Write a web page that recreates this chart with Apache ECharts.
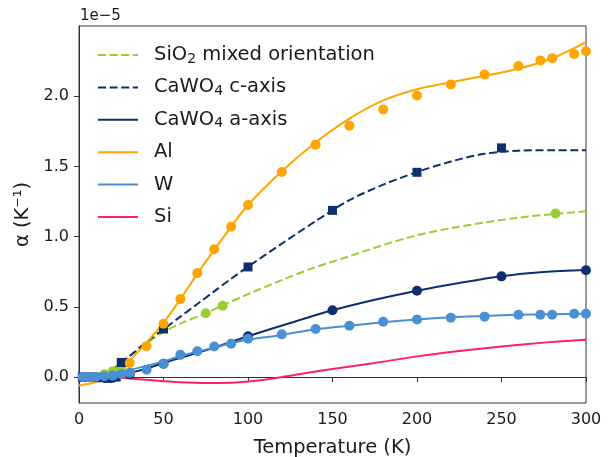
<!DOCTYPE html>
<html>
<head>
<meta charset="utf-8">
<script src="https://cdn.jsdelivr.net/npm/echarts@6/dist/echarts.min.js"></script>
<style>
  html, body { margin: 0; padding: 0; background: #fff; }
  #chart { width: 610px; height: 457px; }
</style>
</head>
<body>
<div id="chart"></div>
<script>
// values in units of 1e-5 K^-1
// --- measured points ---
const alT = [30, 40, 50, 60, 70, 80, 90, 100, 120, 140, 160, 180, 200, 220, 240, 260, 273, 280, 293, 300];
const alV = [0.10, 0.22, 0.38, 0.555, 0.74, 0.91, 1.07, 1.225, 1.46, 1.655, 1.79, 1.905, 2.005, 2.083, 2.155, 2.215, 2.255, 2.27, 2.30, 2.32];

const wT = [2, 6, 10, 15, 20, 25, 30, 40, 50, 60, 70, 80, 90, 100, 120, 140, 160, 180, 200, 220, 240, 260, 273, 280, 293, 300];
const wV = [0.0, 0.0, 0.0, 0.005, 0.01, 0.02, 0.03, 0.052, 0.095, 0.158, 0.183, 0.218, 0.237, 0.273, 0.304, 0.342, 0.366, 0.394, 0.41, 0.423, 0.43, 0.444, 0.444, 0.444, 0.451, 0.451];

const cwcT = [2, 7, 12, 17, 22, 25, 50, 100, 150, 200, 250];
const cwcV = [0.0, 0.0, -0.005, -0.01, 0.0, 0.104, 0.342, 0.784, 1.187, 1.458, 1.632];

const cwaT = [10, 20, 30, 50, 100, 150, 200, 250, 300];
const cwaV = [0.0, -0.005, 0.02, 0.095, 0.29, 0.475, 0.615, 0.717, 0.76];

const sioT = [15, 20, 25, 75, 85, 282];
const sioV = [0.02, 0.04, 0.07, 0.454, 0.508, 1.164];

// --- fitted curves ---
const alFitT = [0, 10, 20, 30, 40, 50, 60, 70, 80, 90, 100, 120, 140, 160, 180, 200, 220, 240, 260, 280, 300];
const alFitV = [-0.06, -0.035, 0.02, 0.12, 0.245, 0.385, 0.555, 0.735, 0.905, 1.07, 1.225, 1.465, 1.67, 1.84, 1.97, 2.05, 2.10, 2.145, 2.195, 2.27, 2.385];

const cwcFitT = [0, 10, 20, 30, 40, 50, 60, 70, 80, 90, 100, 120, 140, 160, 180, 200, 220, 240, 260, 280, 300];
const cwcFitV = [-0.03, -0.01, 0.05, 0.15, 0.25, 0.34, 0.43, 0.52, 0.61, 0.70, 0.785, 0.95, 1.11, 1.26, 1.37, 1.46, 1.535, 1.59, 1.612, 1.615, 1.615];

const cwaFitT = [0, 10, 20, 30, 40, 50, 75, 100, 125, 150, 175, 200, 225, 250, 275, 300];
const cwaFitV = [0.0, 0.0, 0.005, 0.03, 0.06, 0.10, 0.19, 0.29, 0.385, 0.475, 0.55, 0.615, 0.67, 0.718, 0.748, 0.762];

const sioFitT = [0, 10, 20, 30, 40, 50, 60, 75, 85, 100, 120, 137, 160, 180, 200, 220, 240, 260, 280, 300];
const sioFitV = [0.0, 0.0, 0.06, 0.15, 0.24, 0.32, 0.38, 0.455, 0.51, 0.59, 0.69, 0.77, 0.86, 0.94, 1.01, 1.06, 1.10, 1.135, 1.16, 1.18];

const wFitT = [0, 10, 20, 30, 40, 50, 60, 70, 80, 90, 100, 120, 140, 160, 180, 200, 220, 240, 260, 280, 300];
const wFitV = [0.0, 0.01, 0.03, 0.05, 0.08, 0.11, 0.15, 0.18, 0.21, 0.24, 0.265, 0.30, 0.34, 0.365, 0.39, 0.41, 0.425, 0.435, 0.443, 0.447, 0.45];

const siFitT = [0, 10, 20, 30, 40, 50, 60, 75, 90, 100, 115, 130, 150, 175, 200, 225, 250, 275, 300];
const siFitV = [0.01, 0.01, 0.0, -0.01, -0.02, -0.03, -0.038, -0.043, -0.04, -0.032, -0.01, 0.02, 0.057, 0.10, 0.147, 0.185, 0.218, 0.245, 0.266];

const yTicks = [0, 0.5, 1.0, 1.5, 2.0];

const names = ['SiO\u2082 mixed orientation', 'CaWO\u2084 c-axis', 'CaWO\u2084 a-axis', 'Al', 'W', 'Si'];
const cGreen = '#9acd32', cNavy = '#0d2f6b', cOrange = '#ffa500', cBlue = '#4a8fd3', cPink = '#ff1f68';

const pairs = (xs, ys) => xs.map((x, i) => [x, ys[i]]);

function fitLine(name, xs, ys, color, dashed) {
  return {
    name: name, type: 'line', smooth: 0.3, symbol: 'none',
    data: pairs(xs, ys),
    lineStyle: { color: color, width: 2, type: dashed ? [8, 3.6] : 'solid' },
    itemStyle: { color: color },
    z: 2
  };
}
function dots(xs, ys, color, shape, size) {
  return {
    type: 'scatter', symbol: shape, symbolSize: size,
    data: pairs(xs, ys),
    itemStyle: { color: color, opacity: 1 },
    z: 3
  };
}

const chart = echarts.init(document.getElementById('chart'));
const option = {
  animation: false,
  grid: { left: 79, right: 24, top: 26, bottom: 54, show: true, borderColor: '#333', borderWidth: 1,
    outerBoundsMode: 'none', containLabel: false },
  legend: {
    data: names,
    orient: 'vertical',
    left: 92, top: 39,
    itemWidth: 40, itemHeight: 14, itemGap: 10.4,
    itemStyle: { opacity: 0 },
    formatter: n => n.replace('\u2082', '{s|2}').replace('\u2084', '{s|4}'),
    textStyle: {
      fontSize: 19.5, lineHeight: 22, color: '#1a1a1a', fontFamily: 'DejaVu Sans', padding: [0, 0, 0, 11],
      rich: { s: { fontSize: 14, lineHeight: 22, verticalAlign: 'bottom', color: '#1a1a1a', fontFamily: 'DejaVu Sans' } }
    }
  },
  xAxis: {
    type: 'value', min: 0, max: 300, interval: 50,
    name: 'Temperature (K)', nameLocation: 'middle', nameGap: 35,
    nameTextStyle: { fontSize: 19.5, color: '#1a1a1a', fontFamily: 'DejaVu Sans' },
    axisLine: { show: true, lineStyle: { color: '#333' } },
    axisTick: { show: true, length: 5, lineStyle: { color: '#333' } },
    axisLabel: { fontSize: 16, color: '#1a1a1a', fontFamily: 'DejaVu Sans', margin: 9 },
    splitLine: { show: false }
  },
  yAxis: {
    type: 'value', min: -0.185, max: 2.5,
    name: '\u03b1 (K\u207b\u00b9)', nameLocation: 'middle', nameGap: 39, nameRotate: 90,
    nameTextStyle: { fontSize: 19.5, color: '#1a1a1a', fontFamily: 'DejaVu Sans' },
    axisLine: { show: true, lineStyle: { color: '#333' } },
    axisTick: { show: true, length: 5, customValues: yTicks, lineStyle: { color: '#333' } },
    axisLabel: { fontSize: 16, color: '#1a1a1a', fontFamily: 'DejaVu Sans', margin: 10,
      customValues: yTicks, formatter: v => v.toFixed(1) },
    splitLine: { show: false }
  },
  graphic: [{
    type: 'text', left: 80, top: 9,
    style: { text: '1e\u22125', fontSize: 15, fill: '#1a1a1a', fontFamily: 'DejaVu Sans' }
  }],
  series: [
    fitLine(names[0], sioFitT, sioFitV, cGreen, true),
    fitLine(names[1], cwcFitT, cwcFitV, cNavy, true),
    fitLine(names[2], cwaFitT, cwaFitV, cNavy, false),
    fitLine(names[3], alFitT, alFitV, cOrange, false),
    fitLine(names[4], wFitT, wFitV, cBlue, false),
    fitLine(names[5], siFitT, siFitV, cPink, false),
    dots(sioT, sioV, cGreen, 'circle', 10),
    dots(cwcT, cwcV, cNavy, 'rect', 9),
    dots(cwaT, cwaV, cNavy, 'circle', 10),
    dots(wT, wV, cBlue, 'circle', 10),
    dots(alT, alV, cOrange, 'circle', 10)
  ]
};
chart.setOption(option);
</script>
</body>
</html>
